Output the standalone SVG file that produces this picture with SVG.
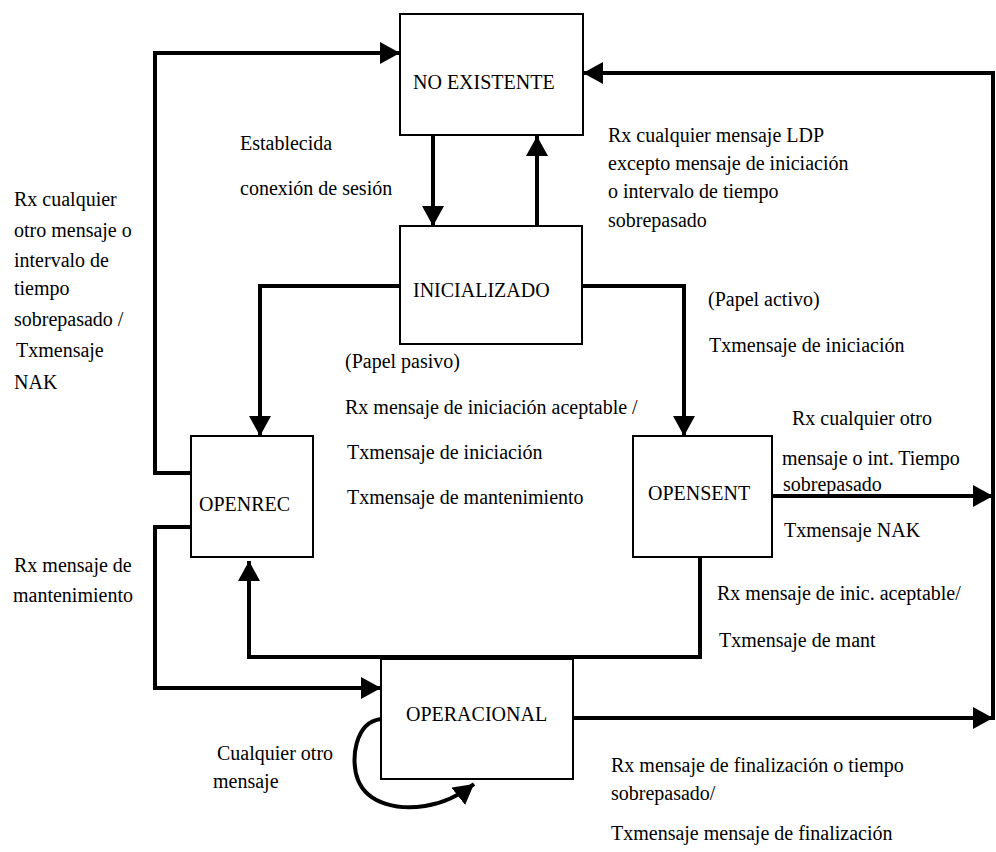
<svg xmlns="http://www.w3.org/2000/svg" width="996" height="852" viewBox="0 0 996 852">
<style>
.box{fill:#fff;stroke:#000;stroke-width:2}
text{font-family:'Liberation Serif',serif;font-size:20px;fill:#000}
.ca{fill:none;stroke:#000;stroke-width:4;marker-end:url(#ah)}
</style>
<defs>
<marker id="ah" viewBox="0 0 20 22" refX="20" refY="11" markerWidth="20" markerHeight="22" markerUnits="userSpaceOnUse" orient="auto">
<path d="M0 0 L20 11 L0 22 Z" fill="#000"/>
</marker>
</defs>
<rect width="996" height="852" fill="#fff"/>
<g id="connectors">
<path class="ca" d="M191 473 H155 V53 H400"/>
<path class="ca" d="M191 527 H155 V688 H381"/>
<path class="ca" d="M433 135 V226"/>
<path class="ca" d="M537 226 V136"/>
<path class="ca" d="M400 286 H260 V436"/>
<path class="ca" d="M582 286 H684 V436"/>
<path class="ca" d="M993 720 V73 H583"/>
<path class="ca" d="M772 496 H993"/>
<path class="ca" d="M573 718 H993"/>
<path class="ca" d="M700 557 V657 H249 V561"/>
<path class="ca" d="M381 719 C355 722 350 760 358 780 C368 805 400 810 425 806 C445 803 460 795 474 784"/>
</g>
<g font-family="Liberation Serif, serif" font-size="20">
<g id="no-existente"><rect class="box" x="400" y="14" width="183" height="121"/><text x="413" y="89">NO EXISTENTE</text></g>
<g id="inicializado"><rect class="box" x="400" y="226" width="182" height="118"/><text x="413" y="297">INICIALIZADO</text></g>
<g id="openrec"><rect class="box" x="191" y="436" width="122" height="121"/><text x="199" y="511">OPENREC</text></g>
<g id="opensent"><rect class="box" x="633" y="436" width="139" height="121"/><text x="648" y="500">OPENSENT</text></g>
<g id="operacional"><rect class="box" x="381" y="659" width="192" height="120"/><text x="406" y="721">OPERACIONAL</text></g>
<g id="labels">
<text x="240" y="150">Establecida</text>
<text x="240" y="195">conexión de sesión</text>
<text x="608" y="142">Rx cualquier mensaje LDP</text>
<text x="608" y="170">excepto mensaje de iniciación</text>
<text x="608" y="198">o intervalo de tiempo</text>
<text x="608" y="227">sobrepasado</text>
<text x="708" y="306">(Papel activo)</text>
<text x="709" y="352">Txmensaje de iniciación</text>
<text x="14" y="206">Rx cualquier</text>
<text x="14" y="237">otro mensaje o</text>
<text x="14" y="267">intervalo de</text>
<text x="14" y="295">tiempo</text>
<text x="14" y="326">sobrepasado /</text>
<text x="16" y="357">Txmensaje</text>
<text x="14" y="389">NAK</text>
<text x="345" y="368">(Papel pasivo)</text>
<text x="345" y="414">Rx mensaje de iniciación aceptable /</text>
<text x="347" y="459">Txmensaje de iniciación</text>
<text x="347" y="504">Txmensaje de mantenimiento</text>
<text x="792" y="425">Rx cualquier otro</text>
<text x="782" y="465">mensaje o int. Tiempo</text>
<text x="783" y="491">sobrepasado</text>
<text x="784" y="537">Txmensaje NAK</text>
<text x="717" y="600">Rx mensaje de inic. aceptable/</text>
<text x="719" y="647">Txmensaje de mant</text>
<text x="14" y="572">Rx mensaje de</text>
<text x="13" y="602">mantenimiento</text>
<text x="217" y="760">Cualquier otro</text>
<text x="213" y="788">mensaje</text>
<text x="611" y="772">Rx mensaje de finalización o tiempo</text>
<text x="611" y="800">sobrepasado/</text>
<text x="611" y="840">Txmensaje mensaje de finalización</text>
</g>
</g>
</svg>
